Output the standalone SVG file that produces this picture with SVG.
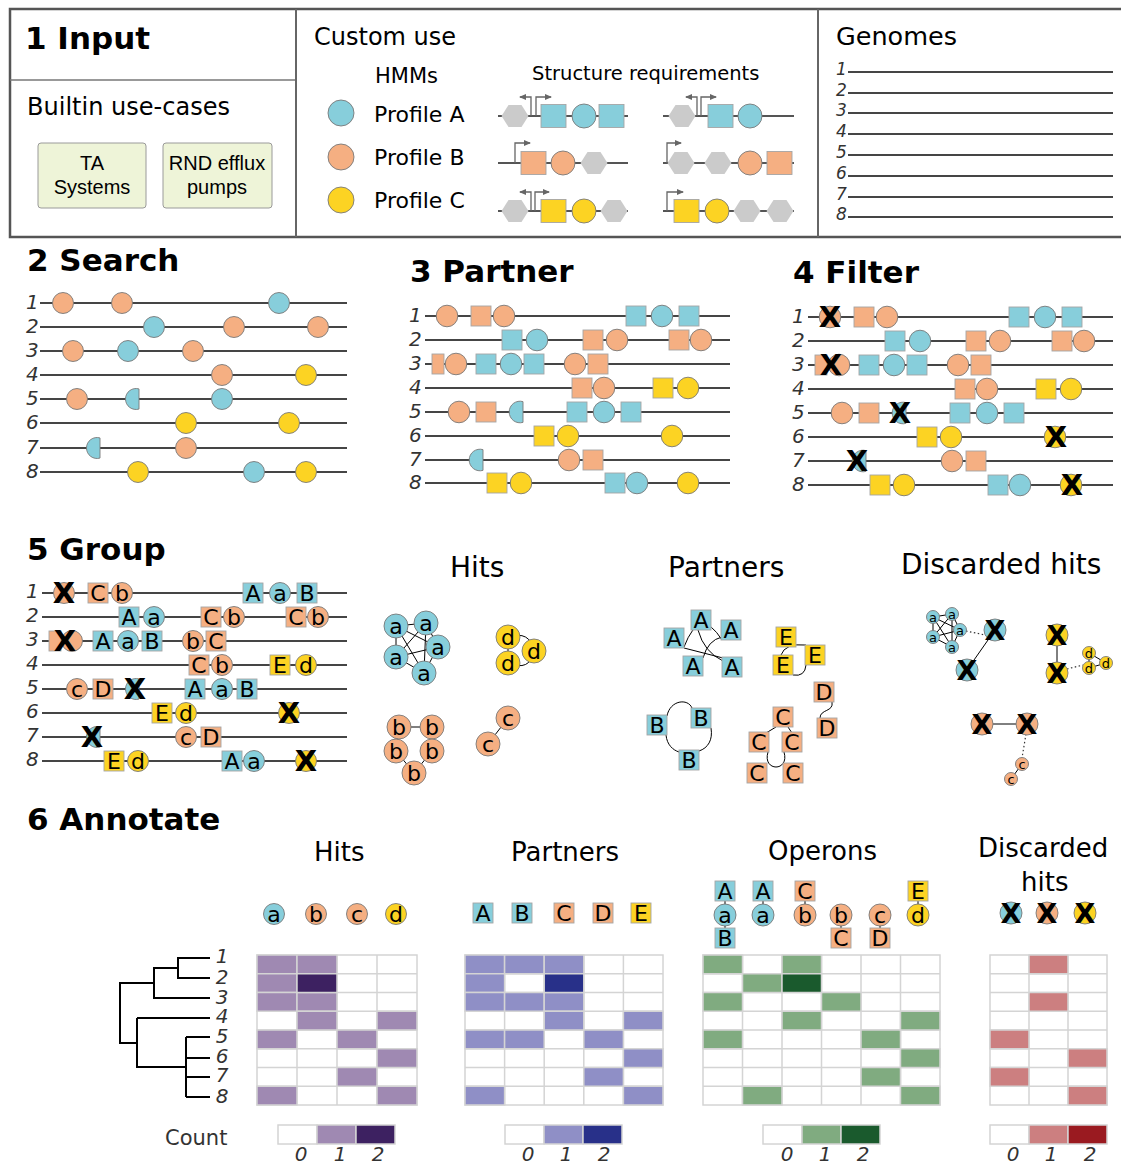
<svg xmlns="http://www.w3.org/2000/svg" width="1121" height="1165" viewBox="0 0 1121 1165">
<style>
text{font-family:"DejaVu Sans",sans-serif;fill:#000}
.h{font-weight:bold;font-size:31px}
.n{font-style:italic;font-size:20px;fill:#333}
.n2{font-style:italic;font-size:20px;fill:#333;text-anchor:middle}
.g{stroke:#454545;stroke-width:2.2;fill:none}
.b{fill:#87cedb}
.o{fill:#f5af82}
.y{fill:#fcd323}
.c{stroke:#787878;stroke-width:0.9}
.s{stroke:#a5a5a5;stroke-width:0.9}
.hx{fill:#cbcbcb}
.pr{stroke:#666;stroke-width:1.3;fill:none}
.L{font-size:22px;text-anchor:middle}
.Ls{font-size:13px;text-anchor:middle}
.X{font-weight:bold;font-size:29px;text-anchor:middle}
.Xs{font-weight:bold;font-size:27px;text-anchor:middle}
.e{stroke:#000;stroke-width:1;fill:none}
.dt{stroke:#333;stroke-width:1.2;stroke-dasharray:1.5 2.5;fill:none}
.cell{stroke:#d4d4d4;stroke-width:1.5}
.t2{font-size:28px}
.t3{font-size:26px}
.ar{font-family:"Liberation Sans",Arial,sans-serif;font-size:20px;text-anchor:middle}
</style>
<defs>
<marker id="ah" markerWidth="7" markerHeight="6" refX="6" refY="3" orient="auto" markerUnits="userSpaceOnUse"><path d="M0,0L7,3L0,6z" fill="#666"/></marker>
</defs>

<g id="panel1">
<rect x="10" y="9" width="1125" height="228" fill="none" stroke="#555" stroke-width="2.5"/>
<line x1="10" y1="80" x2="296" y2="80" stroke="#777" stroke-width="1.5"/>
<line x1="296" y1="9" x2="296" y2="237" stroke="#666" stroke-width="2"/>
<line x1="818" y1="9" x2="818" y2="237" stroke="#666" stroke-width="2"/>
<text class="h" x="25" y="49">1 Input</text>
<text x="27" y="115" font-family="Liberation Sans, Arial, sans-serif" font-size="25" textLength="203" lengthAdjust="spacingAndGlyphs">Builtin use-cases</text>
</g>
<g id="ta">
<rect x="38" y="143" width="108" height="65" rx="3" fill="#eef4d8" stroke="#9a9a9a"/>
<text class="ar" x="92" y="170">TA</text><text class="ar" x="92" y="194">Systems</text>
</g>
<g id="rnd">
<rect x="163" y="143" width="109" height="65" rx="3" fill="#eef4d8" stroke="#9a9a9a"/>
<text class="ar" x="217" y="170">RND efflux</text><text class="ar" x="217" y="194">pumps</text>
</g>

<g id="custom">
<text x="314" y="45" font-size="24">Custom use</text>
<text x="375" y="83" font-size="21">HMMs</text>
<text x="532" y="80" font-size="19.5">Structure requirements</text>
<circle class="b c" cx="341" cy="113" r="13"/>
<circle class="o c" cx="341" cy="157" r="13"/>
<circle class="y c" cx="341" cy="200" r="13"/>
<text x="374" y="122" font-size="22">Profile A</text>
<text x="374" y="165" font-size="22">Profile B</text>
<text x="374" y="208" font-size="22">Profile C</text>
<g stroke="#555" stroke-width="2">
<path d="M498 116H628M663 116H794M498 163H628M663 163H794M498 211H628M663 211H794"/>
</g>
<g class="hx">
<polygon points="501.5,116 508.5,105 521.5,105 528.5,116 521.5,127 508.5,127"/>
<polygon points="668.5,116 675.5,105 688.5,105 695.5,116 688.5,127 675.5,127"/>
<polygon points="580.5,163 587.5,152 600.5,152 607.5,163 600.5,174 587.5,174"/>
<polygon points="667.5,163 674.5,152 687.5,152 694.5,163 687.5,174 674.5,174"/>
<polygon points="704.5,163 711.5,152 724.5,152 731.5,163 724.5,174 711.5,174"/>
<polygon points="501.5,211 508.5,200 521.5,200 528.5,211 521.5,222 508.5,222"/>
<polygon points="600.5,211 607.5,200 620.5,200 627.5,211 620.5,222 607.5,222"/>
<polygon points="733.5,211 740.5,200 753.5,200 760.5,211 753.5,222 740.5,222"/>
<polygon points="766.5,211 773.5,200 786.5,200 793.5,211 786.5,222 773.5,222"/>
</g>
<g class="pr">
<path d="M531 116V97H520" marker-end="url(#ah)"/>
<path d="M536 116V97H551" marker-end="url(#ah)"/>
<path d="M697 116V97H686" marker-end="url(#ah)"/>
<path d="M701 116V97H716" marker-end="url(#ah)"/>
<path d="M515 163V143H530" marker-end="url(#ah)"/>
<path d="M667 163V143H681" marker-end="url(#ah)"/>
<path d="M531 211V192H520" marker-end="url(#ah)"/>
<path d="M535 211V192H549" marker-end="url(#ah)"/>
<path d="M667 211V192H683" marker-end="url(#ah)"/>
</g>
<rect class="b s" x="541" y="104.5" width="25" height="23"/>
<circle class="b c" cx="584" cy="116" r="12"/>
<rect class="b s" x="599" y="104.5" width="25" height="23"/>
<rect class="b s" x="708" y="104.5" width="25" height="23"/>
<circle class="b c" cx="750" cy="116" r="12"/>
<rect class="o s" x="521" y="151.5" width="25" height="23"/>
<circle class="o c" cx="563" cy="163" r="12"/>
<circle class="o c" cx="750" cy="163" r="12"/>
<rect class="o s" x="767" y="151.5" width="25" height="23"/>
<rect class="y s" x="541" y="199.5" width="25" height="23"/>
<circle class="y c" cx="584" cy="211" r="12"/>
<rect class="y s" x="674" y="199.5" width="25" height="23"/>
<circle class="y c" cx="717" cy="211" r="12"/>
</g>

<g id="genomes">
<text x="836" y="45" font-size="25.5">Genomes</text>
<path class="g" d="M848 72H1113M848 93H1113M848 113H1113M848 134H1113M848 155H1113M848 176H1113M848 197H1113M848 217H1113"/>
<g font-style="italic" font-size="17">
<text x="836" y="75" style="fill:#333">1</text><text x="836" y="96" style="fill:#333">2</text><text x="836" y="116" style="fill:#333">3</text><text x="836" y="137" style="fill:#333">4</text><text x="836" y="158" style="fill:#333">5</text><text x="836" y="179" style="fill:#333">6</text><text x="836" y="200" style="fill:#333">7</text><text x="836" y="220" style="fill:#333">8</text>
</g>
</g>

<g id="search">
<text class="h" x="27" y="271">2 Search</text>
<path class="g" d="M40 303H347M40 327H347M40 351H347M40 375H347M40 399H347M40 423H347M40 448H347M40 472H347"/>
<text class="n" x="26" y="309">1</text><text class="n" x="26" y="333">2</text><text class="n" x="26" y="357">3</text><text class="n" x="26" y="381">4</text><text class="n" x="26" y="405">5</text><text class="n" x="26" y="429">6</text><text class="n" x="26" y="454">7</text><text class="n" x="26" y="478">8</text>
<circle class="o c" cx="63" cy="303" r="10.5"/><circle class="o c" cx="122" cy="303" r="10.5"/><circle class="b c" cx="279" cy="303" r="10.5"/>
<circle class="b c" cx="154" cy="327" r="10.5"/><circle class="o c" cx="234" cy="327" r="10.5"/><circle class="o c" cx="318" cy="327" r="10.5"/>
<circle class="o c" cx="73" cy="351" r="10.5"/><circle class="b c" cx="128" cy="351" r="10.5"/><circle class="o c" cx="193" cy="351" r="10.5"/>
<circle class="o c" cx="222" cy="375" r="10.5"/><circle class="y c" cx="306" cy="375" r="10.5"/>
<circle class="o c" cx="77" cy="399" r="10.5"/><path class="b c" d="M139,388.94A10.5 10.5 0 1 0 139,409.06Z"/><circle class="b c" cx="222" cy="399" r="10.5"/>
<circle class="y c" cx="186" cy="423" r="10.5"/><circle class="y c" cx="289" cy="423" r="10.5"/>
<path class="b c" d="M100,437.94A10.5 10.5 0 1 0 100,458.06Z"/><circle class="o c" cx="186" cy="448" r="10.5"/>
<circle class="y c" cx="138" cy="472" r="10.5"/><circle class="b c" cx="254" cy="472" r="10.5"/><circle class="y c" cx="306" cy="472" r="10.5"/>
</g>

<g id="partner">
<text class="h" x="410" y="282">3 Partner</text>
<path class="g" d="M425 316H730M425 340H730M425 364H730M425 388H730M425 412H730M425 436H730M425 460H730M425 483H730"/>
<text class="n" x="409" y="322">1</text><text class="n" x="409" y="346">2</text><text class="n" x="409" y="370">3</text><text class="n" x="409" y="394">4</text><text class="n" x="409" y="418">5</text><text class="n" x="409" y="442">6</text><text class="n" x="409" y="466">7</text><text class="n" x="409" y="489">8</text>
<circle class="o c" cx="447" cy="316" r="10.8"/><rect class="o s" x="471" y="306" width="20" height="20"/><circle class="o c" cx="504" cy="316" r="10.8"/><rect class="b s" x="626" y="306" width="20" height="20"/><circle class="b c" cx="662" cy="316" r="10.8"/><rect class="b s" x="679" y="306" width="20" height="20"/>
<rect class="b s" x="502" y="330" width="20" height="20"/><circle class="b c" cx="537" cy="340" r="10.8"/><rect class="o s" x="583" y="330" width="20" height="20"/><circle class="o c" cx="617" cy="340" r="10.8"/><rect class="o s" x="669" y="330" width="20" height="20"/><circle class="o c" cx="701" cy="340" r="10.8"/>
<rect class="o s" x="432" y="354" width="12" height="20"/><circle class="o c" cx="456" cy="364" r="10.8"/><rect class="b s" x="476" y="354" width="20" height="20"/><circle class="b c" cx="511" cy="364" r="10.8"/><rect class="b s" x="524" y="354" width="20" height="20"/><circle class="o c" cx="575" cy="364" r="10.8"/><rect class="o s" x="588" y="354" width="20" height="20"/>
<rect class="o s" x="572" y="378" width="20" height="20"/><circle class="o c" cx="604" cy="388" r="10.8"/><rect class="y s" x="653" y="378" width="20" height="20"/><circle class="y c" cx="688" cy="388" r="10.8"/>
<circle class="o c" cx="459" cy="412" r="10.8"/><rect class="o s" x="476" y="402" width="20" height="20"/><path class="b c" d="M523,401.63A10.8 10.8 0 1 0 523,422.37Z"/><rect class="b s" x="567" y="402" width="20" height="20"/><circle class="b c" cx="604" cy="412" r="10.8"/><rect class="b s" x="621" y="402" width="20" height="20"/>
<rect class="y s" x="534" y="426" width="20" height="20"/><circle class="y c" cx="568" cy="436" r="10.8"/><circle class="y c" cx="672" cy="436" r="10.8"/>
<path class="b c" d="M483,449.63A10.8 10.8 0 1 0 483,470.37Z"/><circle class="o c" cx="569" cy="460" r="10.8"/><rect class="o s" x="583" y="450" width="20" height="20"/>
<rect class="y s" x="487" y="473" width="20" height="20"/><circle class="y c" cx="521" cy="483" r="10.8"/><rect class="b s" x="605" y="473" width="20" height="20"/><circle class="b c" cx="637" cy="483" r="10.8"/><circle class="y c" cx="688" cy="483" r="10.8"/>
</g>

<g id="filter">
<text class="h" x="793" y="283">4 Filter</text>
<path class="g" d="M808 317H1113M808 341H1113M808 365H1113M808 389H1113M808 413H1113M808 437H1113M808 461H1113M808 485H1113"/>
<text class="n" x="792" y="323">1</text><text class="n" x="792" y="347">2</text><text class="n" x="792" y="371">3</text><text class="n" x="792" y="395">4</text><text class="n" x="792" y="419">5</text><text class="n" x="792" y="443">6</text><text class="n" x="792" y="467">7</text><text class="n" x="792" y="491">8</text>
<circle class="o c" cx="830" cy="317" r="10.8"/><rect class="o s" x="854" y="307" width="20" height="20"/><circle class="o c" cx="887" cy="317" r="10.8"/><rect class="b s" x="1009" y="307" width="20" height="20"/><circle class="b c" cx="1045" cy="317" r="10.8"/><rect class="b s" x="1062" y="307" width="20" height="20"/>
<rect class="b s" x="885" y="331" width="20" height="20"/><circle class="b c" cx="920" cy="341" r="10.8"/><rect class="o s" x="966" y="331" width="20" height="20"/><circle class="o c" cx="1000" cy="341" r="10.8"/><rect class="o s" x="1052" y="331" width="20" height="20"/><circle class="o c" cx="1084" cy="341" r="10.8"/>
<rect class="o s" x="815" y="355" width="12" height="20"/><circle class="o c" cx="839" cy="365" r="10.8"/><rect class="b s" x="859" y="355" width="20" height="20"/><circle class="b c" cx="894" cy="365" r="10.8"/><rect class="b s" x="907" y="355" width="20" height="20"/><circle class="o c" cx="958" cy="365" r="10.8"/><rect class="o s" x="971" y="355" width="20" height="20"/>
<rect class="o s" x="955" y="379" width="20" height="20"/><circle class="o c" cx="987" cy="389" r="10.8"/><rect class="y s" x="1036" y="379" width="20" height="20"/><circle class="y c" cx="1071" cy="389" r="10.8"/>
<circle class="o c" cx="842" cy="413" r="10.8"/><rect class="o s" x="859" y="403" width="20" height="20"/><path class="b c" d="M906,402.63A10.8 10.8 0 1 0 906,423.37Z"/><rect class="b s" x="950" y="403" width="20" height="20"/><circle class="b c" cx="987" cy="413" r="10.8"/><rect class="b s" x="1004" y="403" width="20" height="20"/>
<rect class="y s" x="917" y="427" width="20" height="20"/><circle class="y c" cx="951" cy="437" r="10.8"/><circle class="y c" cx="1055" cy="437" r="10.8"/>
<path class="b c" d="M866,450.63A10.8 10.8 0 1 0 866,471.37Z"/><circle class="o c" cx="952" cy="461" r="10.8"/><rect class="o s" x="966" y="451" width="20" height="20"/>
<rect class="y s" x="870" y="475" width="20" height="20"/><circle class="y c" cx="904" cy="485" r="10.8"/><rect class="b s" x="988" y="475" width="20" height="20"/><circle class="b c" cx="1020" cy="485" r="10.8"/><circle class="y c" cx="1071" cy="485" r="10.8"/>
<text class="X" x="830" y="327">X</text><text class="X" x="831" y="375">X</text><text class="X" x="900" y="423">X</text><text class="X" x="1056" y="447">X</text><text class="X" x="857" y="471">X</text><text class="X" x="1072" y="495">X</text>
</g>

<g id="group">
<text class="h" x="27" y="560">5 Group</text>
<path class="g" d="M42 593H347M42 617H347M42 641H347M42 665H347M42 689H347M42 713H347M42 737H347M42 761H347"/>
<text class="n" x="26" y="598">1</text><text class="n" x="26" y="622">2</text><text class="n" x="26" y="646">3</text><text class="n" x="26" y="670">4</text><text class="n" x="26" y="694">5</text><text class="n" x="26" y="718">6</text><text class="n" x="26" y="742">7</text><text class="n" x="26" y="766">8</text>
<circle class="o c" cx="64" cy="593" r="10.5"/>
<rect class="o s" x="88" y="583" width="20" height="20"/><text class="L" x="98" y="601">C</text>
<circle class="o c" cx="122" cy="593" r="10.5"/><text class="L" x="122" y="601">b</text>
<rect class="b s" x="243" y="583" width="20" height="20"/><text class="L" x="253" y="601">A</text>
<circle class="b c" cx="280" cy="593" r="10.5"/><text class="L" x="280" y="601">a</text>
<rect class="b s" x="297" y="583" width="20" height="20"/><text class="L" x="307" y="601">B</text>

<rect class="b s" x="119" y="607" width="20" height="20"/><text class="L" x="129" y="625">A</text>
<circle class="b c" cx="154" cy="617" r="10.5"/><text class="L" x="154" y="625">a</text>
<rect class="o s" x="201" y="607" width="20" height="20"/><text class="L" x="211" y="625">C</text>
<circle class="o c" cx="234" cy="617" r="10.5"/><text class="L" x="234" y="625">b</text>
<rect class="o s" x="286" y="607" width="20" height="20"/><text class="L" x="296" y="625">C</text>
<circle class="o c" cx="318" cy="617" r="10.5"/><text class="L" x="318" y="625">b</text>

<rect class="o s" x="49" y="631" width="12" height="20"/><circle class="o c" cx="72" cy="641" r="10.5"/>
<rect class="b s" x="93" y="631" width="20" height="20"/><text class="L" x="103" y="649">A</text>
<circle class="b c" cx="128" cy="641" r="10.5"/><text class="L" x="128" y="649">a</text>
<rect class="b s" x="142" y="631" width="20" height="20"/><text class="L" x="152" y="649">B</text>
<circle class="o c" cx="193" cy="641" r="10.5"/><text class="L" x="193" y="649">b</text>
<rect class="o s" x="206" y="631" width="20" height="20"/><text class="L" x="216" y="649">C</text>

<rect class="o s" x="189" y="655" width="20" height="20"/><text class="L" x="199" y="673">C</text>
<circle class="o c" cx="222" cy="665" r="10.5"/><text class="L" x="222" y="673">b</text>
<rect class="y s" x="270" y="655" width="20" height="20"/><text class="L" x="280" y="673">E</text>
<circle class="y c" cx="306" cy="665" r="10.5"/><text class="L" x="306" y="673">d</text>

<circle class="o c" cx="77" cy="689" r="10.5"/><text class="L" x="77" y="697">c</text>
<rect class="o s" x="93" y="679" width="20" height="20"/><text class="L" x="103" y="697">D</text>
<path class="b c" d="M139,678.94A10.5 10.5 0 1 0 139,699.06Z"/>
<rect class="b s" x="185" y="679" width="20" height="20"/><text class="L" x="195" y="697">A</text>
<circle class="b c" cx="222" cy="689" r="10.5"/><text class="L" x="222" y="697">a</text>
<rect class="b s" x="237" y="679" width="20" height="20"/><text class="L" x="247" y="697">B</text>

<rect class="y s" x="152" y="703" width="20" height="20"/><text class="L" x="162" y="721">E</text>
<circle class="y c" cx="186" cy="713" r="10.5"/><text class="L" x="186" y="721">d</text>
<circle class="y c" cx="289" cy="713" r="10.5"/>

<path class="b c" d="M100,726.94A10.5 10.5 0 1 0 100,747.06Z"/>
<circle class="o c" cx="186" cy="737" r="10.5"/><text class="L" x="186" y="745">c</text>
<rect class="o s" x="201" y="727" width="20" height="20"/><text class="L" x="211" y="745">D</text>

<rect class="y s" x="104" y="751" width="20" height="20"/><text class="L" x="114" y="769">E</text>
<circle class="y c" cx="138" cy="761" r="10.5"/><text class="L" x="138" y="769">d</text>
<rect class="b s" x="222" y="751" width="20" height="20"/><text class="L" x="232" y="769">A</text>
<circle class="b c" cx="254" cy="761" r="10.5"/><text class="L" x="254" y="769">a</text>
<circle class="y c" cx="306" cy="761" r="10.5"/>

<text class="X" x="64" y="603">X</text><text class="X" x="65" y="651">X</text><text class="X" x="135" y="699">X</text><text class="X" x="289" y="723">X</text><text class="X" x="92" y="747">X</text><text class="X" x="306" y="771">X</text>
</g>

<g id="hits-graph">
<text class="t2" x="450" y="577">Hits</text>
<g class="e">
<path d="M396 626L426 623M396 626L438 647M396 626L396 657M396 626L424 673M426 623L438 647M426 623L396 657M426 623L424 673M438 647L396 657M438 647L424 673M396 657L424 673"/>
<path d="M508 637L508 663M508 637Q530 630 534 651M508 663Q530 672 534 651"/>
<path d="M399 727L432 727M399 727L396 751M432 727L432 751M396 751L414 773M432 751L414 773"/>
<path d="M508 718L488 744"/>
</g>
<circle class="b c" cx="396" cy="626" r="12"/><text class="L" x="396" y="634">a</text>
<circle class="b c" cx="426" cy="623" r="12"/><text class="L" x="426" y="631">a</text>
<circle class="b c" cx="438" cy="647" r="12"/><text class="L" x="438" y="655">a</text>
<circle class="b c" cx="396" cy="657" r="12"/><text class="L" x="396" y="665">a</text>
<circle class="b c" cx="424" cy="673" r="12"/><text class="L" x="424" y="681">a</text>
<circle class="y c" cx="508" cy="637" r="12"/><text class="L" x="508" y="645">d</text>
<circle class="y c" cx="534" cy="651" r="12"/><text class="L" x="534" y="659">d</text>
<circle class="y c" cx="508" cy="663" r="12"/><text class="L" x="508" y="671">d</text>
<circle class="o c" cx="399" cy="727" r="12"/><text class="L" x="399" y="735">b</text>
<circle class="o c" cx="432" cy="727" r="12"/><text class="L" x="432" y="735">b</text>
<circle class="o c" cx="396" cy="751" r="12"/><text class="L" x="396" y="759">b</text>
<circle class="o c" cx="432" cy="751" r="12"/><text class="L" x="432" y="759">b</text>
<circle class="o c" cx="414" cy="773" r="12"/><text class="L" x="414" y="781">b</text>
<circle class="o c" cx="508" cy="718" r="12"/><text class="L" x="508" y="726">c</text>
<circle class="o c" cx="488" cy="744" r="12"/><text class="L" x="488" y="752">c</text>
</g>

<g id="partners-graph">
<text class="t2" x="668" y="577">Partners</text>
<g class="e">
<path d="M684 648L723 658M684 647Q700 605 722 640M703 658Q708 640 722 637M698 630Q704 652 723 661"/>
<path d="M781 655Q785 643 806 645M806 665Q805 677 793 675"/>
<path d="M832 702C834 712 820 709 820 718"/>
<path d="M667 716C670 700 688 698 692 708M711 728C713 740 708 748 699 751M666 735C667 745 673 750 679 752"/>
<path d="M776 727L766 733M788 727L792 733M768 752C762 772 790 772 784 752"/>
</g>
<rect class="b s" x="664" y="628" width="20" height="20"/><text class="L" x="674" y="646">A</text>
<rect class="b s" x="691" y="610" width="20" height="20"/><text class="L" x="701" y="628">A</text>
<rect class="b s" x="721" y="620" width="20" height="20"/><text class="L" x="731" y="638">A</text>
<rect class="b s" x="683" y="656" width="20" height="20"/><text class="L" x="693" y="674">A</text>
<rect class="b s" x="722" y="657" width="20" height="20"/><text class="L" x="732" y="675">A</text>
<rect class="y s" x="776" y="627" width="20" height="20"/><text class="L" x="786" y="645">E</text>
<rect class="y s" x="805" y="645" width="20" height="20"/><text class="L" x="815" y="663">E</text>
<rect class="y s" x="773" y="655" width="20" height="20"/><text class="L" x="783" y="673">E</text>
<rect class="o s" x="814" y="682" width="20" height="20"/><text class="L" x="824" y="700">D</text>
<rect class="o s" x="817" y="718" width="20" height="20"/><text class="L" x="827" y="736">D</text>
<rect class="b s" x="647" y="715" width="20" height="20"/><text class="L" x="657" y="733">B</text>
<rect class="b s" x="691" y="708" width="20" height="20"/><text class="L" x="701" y="726">B</text>
<rect class="b s" x="679" y="750" width="20" height="20"/><text class="L" x="689" y="768">B</text>
<rect class="o s" x="773" y="707" width="20" height="20"/><text class="L" x="783" y="725">C</text>
<rect class="o s" x="749" y="732" width="20" height="20"/><text class="L" x="759" y="750">C</text>
<rect class="o s" x="782" y="732" width="20" height="20"/><text class="L" x="792" y="750">C</text>
<rect class="o s" x="747" y="763" width="20" height="20"/><text class="L" x="757" y="781">C</text>
<rect class="o s" x="783" y="763" width="20" height="20"/><text class="L" x="793" y="781">C</text>
</g>

<g id="discarded-graph">
<text class="t2" x="901" y="574">Discarded hits</text>
<g class="e">
<path d="M933 617L952 614M933 617L960 630M933 617L933 637M933 617L952 647M952 614L960 630M952 614L933 637M952 614L952 647M960 630L933 637M960 630L952 647M933 637L952 647"/>
<path d="M995 630L967 670M1057 635L1057 673M982 724L1027 724M1089 653L1106 663M1089 653L1089 668M1106 663L1089 668M1022 764L1011 779"/>
</g>
<path class="dt" d="M966 631L990 636M1067 669L1083 665M1026 734L1022 758"/>
<circle class="b c" cx="933" cy="617" r="6.5"/><text class="Ls" x="933" y="622">a</text>
<circle class="b c" cx="952" cy="614" r="6.5"/><text class="Ls" x="952" y="619">a</text>
<circle class="b c" cx="960" cy="630" r="6.5"/><text class="Ls" x="960" y="635">a</text>
<circle class="b c" cx="933" cy="637" r="6.5"/><text class="Ls" x="933" y="642">a</text>
<circle class="b c" cx="952" cy="647" r="6.5"/><text class="Ls" x="952" y="652">a</text>
<circle class="y c" cx="1089" cy="653" r="6.5"/><text class="Ls" x="1089" y="658">d</text>
<circle class="y c" cx="1106" cy="663" r="6.5"/><text class="Ls" x="1106" y="668">d</text>
<circle class="y c" cx="1089" cy="668" r="6.5"/><text class="Ls" x="1089" y="673">d</text>
<circle class="o c" cx="1022" cy="764" r="6.5"/><text class="Ls" x="1022" y="769">c</text>
<circle class="o c" cx="1011" cy="779" r="6.5"/><text class="Ls" x="1011" y="784">c</text>
<circle class="b c" cx="995" cy="630" r="11"/><circle class="b c" cx="967" cy="670" r="11"/>
<circle class="y c" cx="1057" cy="635" r="11"/><circle class="y c" cx="1057" cy="673" r="11"/>
<circle class="o c" cx="982" cy="724" r="11"/><circle class="o c" cx="1027" cy="724" r="11"/>
<text class="Xs" x="995" y="640">X</text><text class="Xs" x="967" y="680">X</text><text class="Xs" x="1057" y="645">X</text><text class="Xs" x="1057" y="683">X</text><text class="Xs" x="982" y="734">X</text><text class="Xs" x="1027" y="734">X</text>
</g>

<g id="annotate">
<text class="h" x="27" y="830">6 Annotate</text>
<text class="t3" x="314" y="861">Hits</text>
<text class="t3" x="511" y="861">Partners</text>
<text class="t3" x="768" y="860">Operons</text>
<text class="t3" x="978" y="857">Discarded</text>
<text class="t3" x="1021" y="891">hits</text>
</g>

<g id="hits-icons">
<circle class="b c" cx="274" cy="914" r="10.5"/><text class="L" x="274" y="922">a</text>
<circle class="o c" cx="316" cy="914" r="10.5"/><text class="L" x="316" y="922">b</text>
<circle class="o c" cx="357" cy="914" r="10.5"/><text class="L" x="357" y="922">c</text>
<circle class="y c" cx="396" cy="914" r="10.5"/><text class="L" x="396" y="922">d</text>
</g>
<g id="partner-icons">
<rect class="b s" x="473" y="903" width="20" height="20"/><text class="L" x="483" y="921">A</text>
<rect class="b s" x="512" y="903" width="20" height="20"/><text class="L" x="522" y="921">B</text>
<rect class="o s" x="554" y="903" width="20" height="20"/><text class="L" x="564" y="921">C</text>
<rect class="o s" x="593" y="903" width="20" height="20"/><text class="L" x="603" y="921">D</text>
<rect class="y s" x="631" y="903" width="20" height="20"/><text class="L" x="641" y="921">E</text>
</g>
<g id="operon-icons">
<path class="e" d="M725 895V935M763 895V910M805 895V910M841 920V935M880 920V935M918 895V910"/>
<rect class="b s" x="715" y="881" width="20" height="20"/><text class="L" x="725" y="899">A</text>
<circle class="b c" cx="725" cy="915" r="11"/><text class="L" x="725" y="923">a</text>
<rect class="b s" x="715" y="928" width="20" height="20"/><text class="L" x="725" y="946">B</text>
<rect class="b s" x="753" y="881" width="20" height="20"/><text class="L" x="763" y="899">A</text>
<circle class="b c" cx="763" cy="915" r="11"/><text class="L" x="763" y="923">a</text>
<rect class="o s" x="795" y="881" width="20" height="20"/><text class="L" x="805" y="899">C</text>
<circle class="o c" cx="805" cy="915" r="11"/><text class="L" x="805" y="923">b</text>
<circle class="o c" cx="841" cy="915" r="11"/><text class="L" x="841" y="923">b</text>
<rect class="o s" x="831" y="928" width="20" height="20"/><text class="L" x="841" y="946">C</text>
<circle class="o c" cx="880" cy="915" r="11"/><text class="L" x="880" y="923">c</text>
<rect class="o s" x="870" y="928" width="20" height="20"/><text class="L" x="880" y="946">D</text>
<rect class="y s" x="908" y="881" width="20" height="20"/><text class="L" x="918" y="899">E</text>
<circle class="y c" cx="918" cy="915" r="11"/><text class="L" x="918" y="923">d</text>
</g>
<g id="discard-icons">
<circle class="b c" cx="1011" cy="913" r="11"/><circle class="o c" cx="1047" cy="913" r="11"/><circle class="y c" cx="1085" cy="913" r="11"/>
<text class="Xs" x="1011" y="923">X</text><text class="Xs" x="1047" y="923">X</text><text class="Xs" x="1085" y="923">X</text>
</g>

<g id="dendrogram">
<path d="M210,958H178V978H210M178,968H154V998H210M154,983H120V1043H137M137,1018V1067H186M137,1018H210M186,1037V1097M186,1037H210M186,1058H210M186,1077H210M186,1097H210" stroke="#000" stroke-width="2" fill="none"/>
<text class="n2" x="222" y="963">1</text><text class="n2" x="222" y="984">2</text><text class="n2" x="222" y="1004">3</text><text class="n2" x="222" y="1023">4</text><text class="n2" x="222" y="1043">5</text><text class="n2" x="222" y="1063">6</text><text class="n2" x="222" y="1082">7</text><text class="n2" x="222" y="1103">8</text>
</g>

<g id="heat-hits" class="cell">
<rect x="257" y="955" width="160" height="150" fill="#fff"/>
<path d="M297 955V1105M337 955V1105M377 955V1105M257 973.75H417M257 992.5H417M257 1011.25H417M257 1030H417M257 1048.75H417M257 1067.5H417M257 1086.25H417"/>
<g fill="#9f89b2">
<rect x="257" y="955" width="40" height="18.75"/><rect x="257" y="973.75" width="40" height="18.75"/><rect x="257" y="992.5" width="40" height="18.75"/><rect x="257" y="1030" width="40" height="18.75"/><rect x="257" y="1086.25" width="40" height="18.75"/>
<rect x="297" y="955" width="40" height="18.75"/><rect x="297" y="992.5" width="40" height="18.75"/><rect x="297" y="1011.25" width="40" height="18.75"/>
<rect x="337" y="1030" width="40" height="18.75"/><rect x="337" y="1067.5" width="40" height="18.75"/>
<rect x="377" y="1011.25" width="40" height="18.75"/><rect x="377" y="1048.75" width="40" height="18.75"/><rect x="377" y="1086.25" width="40" height="18.75"/>
</g>
<rect x="297" y="973.75" width="40" height="18.75" fill="#3d2161"/>
</g>

<g id="heat-partners" class="cell">
<rect x="465" y="955" width="198" height="150" fill="#fff"/>
<path d="M504.6 955V1105M544.2 955V1105M583.8 955V1105M623.4 955V1105M465 973.75H663M465 992.5H663M465 1011.25H663M465 1030H663M465 1048.75H663M465 1067.5H663M465 1086.25H663"/>
<g fill="#8f8fc6">
<rect x="465" y="955" width="39.6" height="18.75"/><rect x="465" y="973.75" width="39.6" height="18.75"/><rect x="465" y="992.5" width="39.6" height="18.75"/><rect x="465" y="1030" width="39.6" height="18.75"/><rect x="465" y="1086.25" width="39.6" height="18.75"/>
<rect x="504.6" y="955" width="39.6" height="18.75"/><rect x="504.6" y="992.5" width="39.6" height="18.75"/><rect x="504.6" y="1030" width="39.6" height="18.75"/>
<rect x="544.2" y="955" width="39.6" height="18.75"/><rect x="544.2" y="992.5" width="39.6" height="18.75"/><rect x="544.2" y="1011.25" width="39.6" height="18.75"/>
<rect x="583.8" y="1030" width="39.6" height="18.75"/><rect x="583.8" y="1067.5" width="39.6" height="18.75"/>
<rect x="623.4" y="1011.25" width="39.6" height="18.75"/><rect x="623.4" y="1048.75" width="39.6" height="18.75"/><rect x="623.4" y="1086.25" width="39.6" height="18.75"/>
</g>
<rect x="544.2" y="973.75" width="39.6" height="18.75" fill="#283089"/>
</g>

<g id="heat-operons" class="cell">
<rect x="703" y="955" width="237" height="150" fill="#fff"/>
<path d="M742.5 955V1105M782 955V1105M821.5 955V1105M861 955V1105M900.5 955V1105M703 973.75H940M703 992.5H940M703 1011.25H940M703 1030H940M703 1048.75H940M703 1067.5H940M703 1086.25H940"/>
<g fill="#80ab80">
<rect x="703" y="955" width="39.5" height="18.75"/><rect x="703" y="992.5" width="39.5" height="18.75"/><rect x="703" y="1030" width="39.5" height="18.75"/>
<rect x="742.5" y="973.75" width="39.5" height="18.75"/><rect x="742.5" y="1086.25" width="39.5" height="18.75"/>
<rect x="782" y="955" width="39.5" height="18.75"/><rect x="782" y="1011.25" width="39.5" height="18.75"/>
<rect x="821.5" y="992.5" width="39.5" height="18.75"/>
<rect x="861" y="1030" width="39.5" height="18.75"/><rect x="861" y="1067.5" width="39.5" height="18.75"/>
<rect x="900.5" y="1011.25" width="39.5" height="18.75"/><rect x="900.5" y="1048.75" width="39.5" height="18.75"/><rect x="900.5" y="1086.25" width="39.5" height="18.75"/>
</g>
<rect x="782" y="973.75" width="39.5" height="18.75" fill="#1a5a2d"/>
</g>

<g id="heat-discarded" class="cell">
<rect x="990" y="955" width="117" height="150" fill="#fff"/>
<path d="M1029 955V1105M1068 955V1105M990 973.75H1107M990 992.5H1107M990 1011.25H1107M990 1030H1107M990 1048.75H1107M990 1067.5H1107M990 1086.25H1107"/>
<g fill="#cc7f80">
<rect x="990" y="1030" width="39" height="18.75"/><rect x="990" y="1067.5" width="39" height="18.75"/>
<rect x="1029" y="955" width="39" height="18.75"/><rect x="1029" y="992.5" width="39" height="18.75"/>
<rect x="1068" y="1048.75" width="39" height="18.75"/><rect x="1068" y="1086.25" width="39" height="18.75"/>
</g>
</g>

<g id="legends">
<text x="165" y="1145" font-size="21" style="fill:#333">Count</text>
<g class="cell">
<rect x="278" y="1125" width="39" height="19" fill="#fff"/><rect x="317" y="1125" width="39" height="19" fill="#9f89b2"/><rect x="356" y="1125" width="39" height="19" fill="#3d2161"/>
<rect x="505" y="1125" width="39" height="19" fill="#fff"/><rect x="544" y="1125" width="39" height="19" fill="#8f8fc6"/><rect x="583" y="1125" width="39" height="19" fill="#283089"/>
<rect x="763" y="1125" width="39" height="19" fill="#fff"/><rect x="802" y="1125" width="39" height="19" fill="#80ab80"/><rect x="841" y="1125" width="39" height="19" fill="#1a5a2d"/>
<rect x="990" y="1125" width="39" height="19" fill="#fff"/><rect x="1029" y="1125" width="39" height="19" fill="#cc7f80"/><rect x="1068" y="1125" width="39" height="19" fill="#9a1a20"/>
</g>
<text class="n2" x="301" y="1161">0</text><text class="n2" x="340" y="1161">1</text><text class="n2" x="378" y="1161">2</text>
<text class="n2" x="528" y="1161">0</text><text class="n2" x="566" y="1161">1</text><text class="n2" x="604" y="1161">2</text>
<text class="n2" x="787" y="1161">0</text><text class="n2" x="825" y="1161">1</text><text class="n2" x="863" y="1161">2</text>
<text class="n2" x="1013" y="1161">0</text><text class="n2" x="1051" y="1161">1</text><text class="n2" x="1090" y="1161">2</text>
</g>
</svg>
